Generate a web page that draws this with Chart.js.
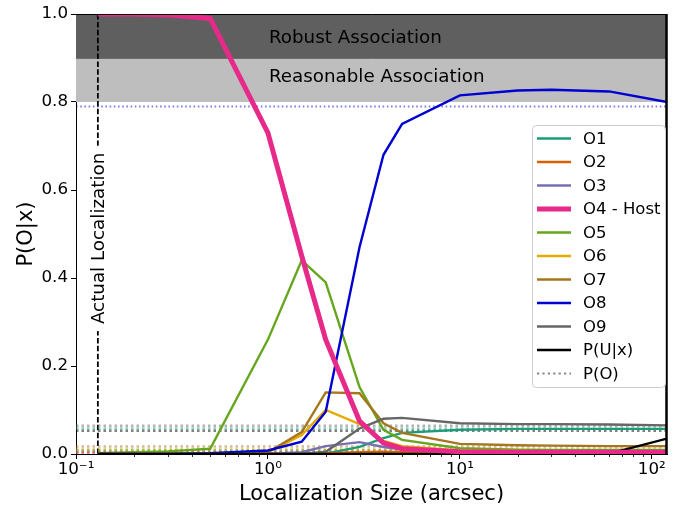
<!DOCTYPE html>
<html lang="en">
<head>
  <meta charset="UTF-8">
  <title>Association probability vs localization size</title>
  <script src="https://cdn.jsdelivr.net/npm/chart.js@4.4.1/dist/chart.umd.min.js"></script>
  <style>
    body { margin: 0; background: #fff; }
    #wrap { width: 680px; height: 506px; }
  </style>
</head>
<body>
<div id="wrap"><canvas id="chart" width="680" height="506"></canvas></div>
<script>
// localization sizes (arcsec)
const sizes = [0.13, 0.2, 0.3, 0.5, 1, 1.5, 2, 3, 4, 5, 10, 20, 30, 60, 120];

// P(O|x) for each candidate
const o1 = [0, 0, 0, 0, 0, 0, 0.001, 0.016, 0.036, 0.048, 0.055, 0.057, 0.057, 0.057, 0.057];
const o2 = [0, 0, 0, 0, 0, 0.001, 0.002, 0.004, 0.005, 0.004, 0.002, 0.002, 0.002, 0.002, 0.002];
const o3 = [0, 0, 0, 0, 0, 0.004, 0.018, 0.027, 0.016, 0.010, 0.004, 0.003, 0.003, 0.003, 0.003];
const o4 = [1.0, 1.0, 0.998, 0.99, 0.73, 0.45, 0.26, 0.075, 0.025, 0.012, 0.005, 0.004, 0.004, 0.004, 0.004];
const o5 = [0.002, 0.004, 0.006, 0.012, 0.26, 0.44, 0.39, 0.152, 0.055, 0.032, 0.013, 0.010, 0.009, 0.009, 0.009];
const o6 = [0, 0, 0, 0, 0.004, 0.043, 0.10, 0.068, 0.030, 0.018, 0.008, 0.007, 0.006, 0.006, 0.006];
const o7 = [0, 0, 0, 0, 0.004, 0.050, 0.14, 0.138, 0.070, 0.048, 0.023, 0.020, 0.019, 0.018, 0.018];
const o8 = [0, 0, 0, 0.002, 0.008, 0.028, 0.096, 0.47, 0.68, 0.75, 0.815, 0.826, 0.828, 0.824, 0.80];
const o9 = [0, 0, 0, 0, 0, 0, 0.005, 0.058, 0.080, 0.082, 0.070, 0.068, 0.068, 0.067, 0.065];
const pUx = [0, 0, 0, 0, 0, 0, 0, 0, 0, 0, 0, 0, 0, 0.001, 0.035];

const seriesNames = ['O1', 'O2', 'O3', 'O4 - Host', 'O5', 'O6', 'O7', 'O8', 'O9', 'P(U|x)'];
const seriesValues = [o1, o2, o3, o4, o5, o6, o7, o8, o9, pUx];
const seriesColors = ['#1b9e77', '#d95f02', '#7570b3', '#e7298a', '#66a61e', '#e6ab02', '#a6761d', '#0000d0', '#666666', '#000000'];

// priors P(O) (and P(U) for the last one)
const priors = [0.058, 0.004, 0.005, 0.003, 0.009, 0.010, 0.017, 0.79, 0.064, 0.053];

const xTickValues = [0.1, 1, 10, 100];
const xTickLabels = ['10⁻¹', '10⁰', '10¹', '10²'];
const actualLocalization = 0.13;
const bandEdges = [0.8, 0.9, 1.0];
const bandLabels = ['Reasonable Association', 'Robust Association'];

const FONT = 'DejaVu Sans';

function rgba(hex, a) {
  const n = parseInt(hex.slice(1), 16);
  return 'rgba(' + (n >> 16) + ',' + ((n >> 8) & 255) + ',' + (n & 255) + ',' + a + ')';
}

const datasets = [];
seriesNames.forEach((name, i) => {
  datasets.push({
    label: name,
    data: sizes.map((s, j) => ({ x: s, y: seriesValues[i][j] })),
    borderColor: seriesColors[i],
    borderWidth: i === 3 ? 5 : 2.4,
    pointRadius: 0,
    tension: 0,
    clip: 0,
    order: i === 3 ? 0 : (i === 9 ? 1 : 2 + (9 - i))
  });
});
priors.forEach((p, i) => {
  datasets.push({
    label: 'P(O) ' + seriesNames[i],
    data: [{ x: 0.1, y: p }, { x: 120, y: p }],
    borderColor: rgba(seriesColors[i], 0.5),
    borderWidth: i === 7 ? 2 : 2.5,
    borderDash: i === 7 ? [1.6, 2.6] : [2.5, 3],
    pointRadius: 0,
    clip: 0,
    order: 50 + i
  });
});

const decor = {
  id: 'decor',
  beforeDatasetsDraw(chart) {
    const { ctx, chartArea: a, scales: { x, y } } = chart;
    ctx.save();
    // shaded association bands
    const y08 = y.getPixelForValue(bandEdges[0]);
    const y09 = y.getPixelForValue(bandEdges[1]);
    const y10 = y.getPixelForValue(bandEdges[2]);
    ctx.fillStyle = '#bebebe';
    ctx.fillRect(a.left, y09, a.right - a.left, y08 - y09);
    ctx.fillStyle = '#5f5f5f';
    ctx.fillRect(a.left, y10, a.right - a.left, y09 - y10);
    ctx.strokeStyle = '#6e6e6e';
    ctx.lineWidth = 1;
    ctx.beginPath();
    ctx.moveTo(a.left, y09 + 0.5);
    ctx.lineTo(a.right, y09 + 0.5);
    ctx.stroke();
    ctx.fillStyle = '#000';
    ctx.font = '18.3px "' + FONT + '"';
    ctx.textBaseline = 'middle';
    ctx.textAlign = 'left';
    const tx = x.getPixelForValue(1.0) + 1;
    ctx.fillText(bandLabels[1], tx, y.getPixelForValue(0.945));
    ctx.fillText(bandLabels[0], tx, y.getPixelForValue(0.857));

    // actual localization marker
    const lx = x.getPixelForValue(actualLocalization);
    ctx.strokeStyle = '#000';
    ctx.lineWidth = 1.8;
    ctx.setLineDash([5.5, 2.4]);
    ctx.beginPath();
    ctx.moveTo(lx, a.bottom);
    ctx.lineTo(lx, a.top);
    ctx.stroke();
    ctx.setLineDash([]);
    const ly = y.getPixelForValue(0.49);
    ctx.save();
    ctx.translate(lx, ly);
    ctx.rotate(-Math.PI / 2);
    const tw = ctx.measureText('Actual Localization').width;
    ctx.fillStyle = '#fff';
    ctx.fillRect(-tw / 2 - 7, -11, tw + 14, 22);
    ctx.fillStyle = '#000';
    ctx.textAlign = 'center';
    ctx.fillText('Actual Localization', 0, 1);
    ctx.restore();
    ctx.restore();
  },
  afterDraw(chart) {
    const { ctx, chartArea: a, scales: { x } } = chart;
    ctx.save();
    // minor ticks on the log axis
    ctx.strokeStyle = '#000';
    ctx.lineWidth = 0.8;
    for (let d = 0.1; d < 200; d *= 10) {
      for (let m = 2; m < 10; m++) {
        const v = d * m;
        if (v > 120) break;
        const px = Math.round(x.getPixelForValue(v)) + 0.5;
        ctx.beginPath();
        ctx.moveTo(px, a.bottom);
        ctx.lineTo(px, a.bottom + 3);
        ctx.stroke();
      }
    }
    // top and right spines
    ctx.lineWidth = 1;
    ctx.beginPath();
    ctx.moveTo(a.left, a.top + 0.5);
    ctx.lineTo(a.right, a.top + 0.5);
    ctx.stroke();
    ctx.lineWidth = 2.5;
    ctx.beginPath();
    ctx.moveTo(a.right - 0.5, a.top);
    ctx.lineTo(a.right - 0.5, a.bottom);
    ctx.stroke();

    // legend inside the axes
    const bx = a.right - 135, by = a.top + 111, bw = 133, bh = 262;
    ctx.fillStyle = 'rgba(255,255,255,0.8)';
    ctx.strokeStyle = '#cccccc';
    ctx.lineWidth = 1;
    ctx.beginPath();
    ctx.roundRect(bx + 0.5, by + 0.5, bw, bh, 4);
    ctx.fill();
    ctx.stroke();
    ctx.font = '16.5px "' + FONT + '"';
    ctx.textBaseline = 'middle';
    ctx.textAlign = 'left';
    const items = seriesNames.map((n, i) => ({ n, c: seriesColors[i], w: i === 3 ? 5 : 2.5, dash: [] }));
    items.push({ n: 'P(O)', c: '#888888', w: 2.2, dash: [2.2, 3.2] });
    items.forEach((it, k) => {
      const yy = by + 13.5 + k * 23.5;
      ctx.strokeStyle = it.c;
      ctx.lineWidth = it.w;
      ctx.setLineDash(it.dash);
      ctx.beginPath();
      ctx.moveTo(bx + 5, yy);
      ctx.lineTo(bx + 39, yy);
      ctx.stroke();
      ctx.setLineDash([]);
      ctx.fillStyle = '#000';
      ctx.fillText(it.n, bx + 51, yy + 1);
    });
    ctx.restore();
  }
};

new Chart(document.getElementById('chart'), {
  type: 'line',
  data: { datasets },
  options: {
    responsive: false,
    animation: false,
    layout: { padding: { top: 14, right: 13, left: 0, bottom: 0 } },
    plugins: { legend: { display: false }, tooltip: { enabled: false } },
    scales: {
      x: {
        type: 'logarithmic',
        min: 0.1,
        max: 120,
        afterBuildTicks: s => { s.ticks = xTickValues.map(v => ({ value: v })); },
        afterFit: s => { s.height = 52; },
        ticks: {
          autoSkip: false,
          maxRotation: 0,
          padding: 1,
          color: '#000',
          font: { family: FONT, size: 16.7 },
          callback: v => {
            const k = xTickValues.findIndex(t => Math.abs(t - v) / t < 1e-6);
            return k >= 0 ? xTickLabels[k] : '';
          }
        },
        grid: { drawOnChartArea: false, tickLength: 5, tickColor: '#000', tickWidth: 1 },
        border: { color: '#000', width: 1 },
        title: {
          display: true,
          text: 'Localization Size (arcsec)',
          color: '#000',
          font: { family: FONT, size: 21, lineHeight: 1.05 },
          padding: { top: 0, bottom: 0 }
        }
      },
      y: {
        min: 0,
        max: 1,
        afterFit: s => { s.width = 76; },
        ticks: {
          stepSize: 0.2,
          padding: 3,
          color: '#000',
          font: { family: FONT, size: 16.7 },
          callback: v => Number(v).toFixed(1)
        },
        grid: { drawOnChartArea: false, tickLength: 5, tickColor: '#000', tickWidth: 1 },
        border: { color: '#000', width: 1 },
        title: {
          display: true,
          text: 'P(O|x)',
          color: '#000',
          font: { family: FONT, size: 21 },
          padding: { top: 14, bottom: 0 }
        }
      }
    }
  },
  plugins: [decor]
});
</script>
</body>
</html>
